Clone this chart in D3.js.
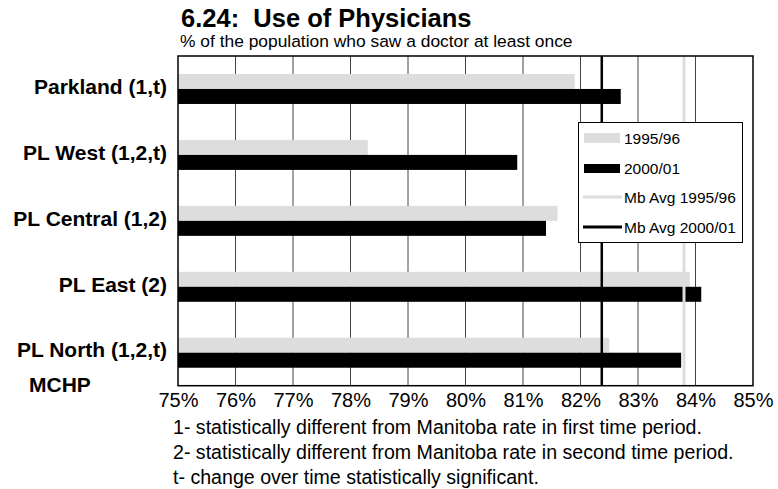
<!DOCTYPE html>
<html><head><meta charset="utf-8">
<script src="https://d3js.org/d3.v7.min.js"></script>
<style>body{margin:0;background:#fff}svg{display:block;font-family:"Liberation Sans",Arial,sans-serif}</style>
</head><body>
<script>
const categories = ["Parkland (1,t)", "PL West (1,2,t)", "PL Central (1,2)", "PL East (2)", "PL North (1,2,t)"];
const series = ["1995/96", "2000/01"];
const values9596 = [81.9, 78.3, 81.6, 83.9, 82.5];
const values0001 = [82.7, 80.9, 81.4, 84.1, 83.75];
const mbAvg9596 = 83.8;
const mbAvg0001 = 82.37;
const tickValues = [75, 76, 77, 78, 79, 80, 81, 82, 83, 84, 85];
const legendLabels = ["1995/96", "2000/01", "Mb Avg 1995/96", "Mb Avg 2000/01"];
const footnotes = ["1- statistically different from Manitoba rate in first time period.",
  "2- statistically different from Manitoba rate in second time period.",
  "t- change over time statistically significant."];

const W = 778, H = 489;
const m = {left: 178, right: 753, top: 56, bottom: 385.7};
const svg = d3.select("body").append("svg").attr("width", W).attr("height", H);

const x = d3.scaleLinear().domain([75, 85]).range([m.left, m.right]);
const y = d3.scaleBand().domain(categories).range([m.top, m.bottom]).paddingInner(0.545).paddingOuter(0.2725);
const ySub = d3.scaleBand().domain(series).range([0, y.bandwidth()]);
const colors = {"1995/96": "#dddddd", "2000/01": "#000000"};

// title
svg.append("text").attr("x", 181).attr("y", 27).attr("font-size", 25.5).attr("font-weight", "bold")
  .style("white-space", "pre").text("6.24:  Use of Physicians");
svg.append("text").attr("x", 180).attr("y", 47).attr("font-size", 17.4).text("% of the population who saw a doctor at least once");

// gridlines
svg.append("g").selectAll("line").data(tickValues.slice(1, -1)).join("line")
  .attr("x1", d => x(d)).attr("x2", d => x(d)).attr("y1", m.top).attr("y2", m.bottom)
  .attr("stroke", "#444").attr("stroke-width", 1);

// bars
const data = categories.map((c, i) => ({c, v: [values9596[i], values0001[i]]}));
const g = svg.append("g");
data.forEach(d => {
  series.forEach((s, j) => {
    g.append("rect").attr("x", x(75)).attr("y", y(d.c) + ySub(s))
      .attr("width", x(d.v[j]) - x(75)).attr("height", ySub.bandwidth())
      .attr("fill", colors[s]);
  });
});

// avg lines
svg.append("line").attr("x1", x(mbAvg9596)).attr("x2", x(mbAvg9596)).attr("y1", m.top).attr("y2", m.bottom)
  .attr("stroke", "#dddddd").attr("stroke-width", 3);
svg.append("line").attr("x1", x(mbAvg0001)).attr("x2", x(mbAvg0001)).attr("y1", m.top).attr("y2", m.bottom)
  .attr("stroke", "#000").attr("stroke-width", 2.5);

// frame
svg.append("rect").attr("x", m.left).attr("y", m.top).attr("width", m.right - m.left).attr("height", m.bottom - m.top)
  .attr("fill", "none").attr("stroke", "#000").attr("stroke-width", 1.5);

// x axis labels
const xAxis = d3.axisBottom(x).tickValues(tickValues).tickSize(0).tickPadding(0).tickFormat(d => d + "%");
const ax = svg.append("g").attr("transform", `translate(0,${m.bottom})`).call(xAxis);
ax.select(".domain").remove();
ax.selectAll("text").attr("font-size", 20).attr("font-family", "Liberation Sans, Arial, sans-serif")
  .attr("fill", "#000").attr("dy", null).attr("y", 21);

// y labels
const yAxis = d3.axisLeft(y).tickSize(0).tickPadding(11);
const ay = svg.append("g").attr("transform", `translate(${m.left},0)`).call(yAxis);
ay.select(".domain").remove();
ay.selectAll("text").attr("font-size", 21).attr("font-weight", "bold")
  .attr("font-family", "Liberation Sans, Arial, sans-serif").attr("fill", "#000").attr("dy", "0.32em").attr("y", -2);

svg.append("text").attr("x", 29).attr("y", 391.5).attr("font-size", 21).attr("font-weight", "bold").text("MCHP");

// legend
const lg = svg.append("g");
lg.append("rect").attr("x", 578.5).attr("y", 122.5).attr("width", 164).attr("height", 120)
  .attr("fill", "#fff").attr("stroke", "#000").attr("stroke-width", 1);
const rowY = [138, 168.5, 197, 227];
lg.append("rect").attr("x", 584).attr("y", rowY[0] - 5).attr("width", 36).attr("height", 10).attr("fill", colors["1995/96"]);
lg.append("rect").attr("x", 584).attr("y", rowY[1] - 4.5).attr("width", 36).attr("height", 9).attr("fill", colors["2000/01"]);
lg.append("line").attr("x1", 583).attr("x2", 622).attr("y1", rowY[2]).attr("y2", rowY[2]).attr("stroke", "#dddddd").attr("stroke-width", 3);
lg.append("line").attr("x1", 583).attr("x2", 622).attr("y1", rowY[3]).attr("y2", rowY[3]).attr("stroke", "#000").attr("stroke-width", 3);
legendLabels.forEach((t, i) => {
  lg.append("text").attr("x", 624).attr("y", rowY[i] + 5.5).attr("font-size", 15.5).text(t);
});

// footnotes
footnotes.forEach((t, i) => {
  svg.append("text").attr("x", 173).attr("y", 434 + i * 25).attr("font-size", 19.6).text(t);
});
</script>
</body></html>
